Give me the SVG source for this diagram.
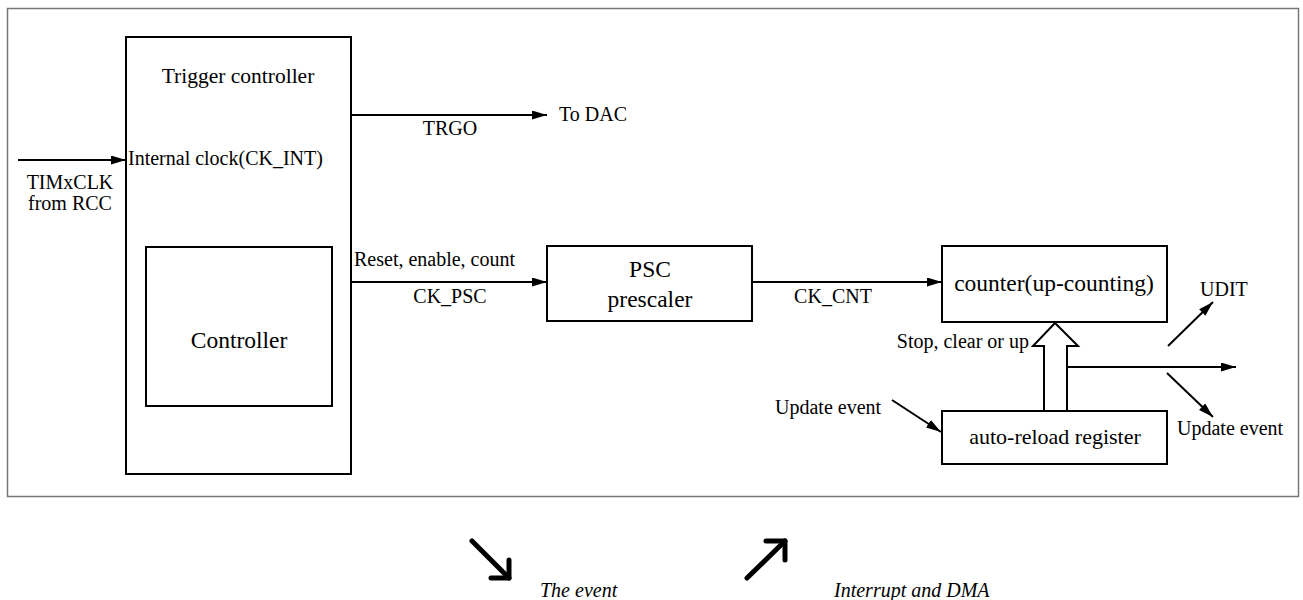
<svg xmlns="http://www.w3.org/2000/svg" width="1303" height="600" viewBox="0 0 1303 600">
<style>
text { font-family: "Liberation Serif", Tinos, "Times New Roman", "DejaVu Serif", "Noto Serif", serif; fill: #000; }
.s { font-size: 20px; }
.b { font-size: 23.5px; }
.i { font-size: 20px; font-style: italic; }
.box { fill: #fff; stroke: #000; stroke-width: 2; }
.ln { fill: none; stroke: #000; stroke-width: 2; }
.big { fill: none; stroke: #000; stroke-width: 5; stroke-linecap: round; stroke-linejoin: round; }
</style>
<defs>
<marker id="ah" markerUnits="userSpaceOnUse" markerWidth="16" markerHeight="10" refX="15" refY="4.5" orient="auto">
<path d="M0,0 L15,4.5 L0,9 z" fill="#000"/>
</marker>
</defs>
<rect x="7.5" y="8.5" width="1291" height="488" fill="#fff" stroke="#777" stroke-width="1.5"/>

<g id="trigger">
<rect class="box" x="126" y="37" width="225" height="437"/>
<text x="238" y="83" text-anchor="middle" font-size="21.5" font-family="Liberation Serif, serif">Trigger controller</text>
<text class="s" x="128" y="165" font-family="Liberation Serif, serif">Internal clock(CK_INT)</text>
</g>
<g id="controller">
<rect class="box" x="146" y="247" width="186" height="159"/>
<text class="b" x="239" y="348" text-anchor="middle" font-family="Liberation Serif, serif">Controller</text>
</g>
<g id="psc">
<rect class="box" x="547" y="246" width="205" height="75"/>
<text class="b" x="650" y="277" text-anchor="middle" font-family="Liberation Serif, serif">PSC</text>
<text class="b" x="650" y="307" text-anchor="middle" font-family="Liberation Serif, serif">prescaler</text>
</g>
<g id="counter">
<rect class="box" x="942" y="246" width="225" height="76"/>
<text class="b" x="1054" y="291" text-anchor="middle" font-family="Liberation Serif, serif">counter(up-counting)</text>
</g>
<g id="arr">
<rect class="box" x="942" y="411" width="225" height="53"/>
<text x="1055" y="444" text-anchor="middle" font-size="22" font-family="Liberation Serif, serif">auto-reload register</text>
</g>
<g id="shift">
<polygon points="1044,411 1044,346 1033,346 1055,323 1078,346 1067,346 1067,411" fill="#fff" stroke="#000" stroke-width="2"/>
</g>

<g id="connectors">
<line class="ln" x1="18" y1="160" x2="126" y2="160" marker-end="url(#ah)"/>
<line class="ln" x1="351" y1="115" x2="547" y2="115" marker-end="url(#ah)"/>
<line class="ln" x1="351" y1="282" x2="547" y2="282" marker-end="url(#ah)"/>
<line class="ln" x1="752" y1="282" x2="942" y2="282" marker-end="url(#ah)"/>
<line class="ln" x1="1067" y1="367" x2="1236" y2="367" marker-end="url(#ah)"/>
<line class="ln" x1="1168" y1="346" x2="1213" y2="302" marker-end="url(#ah)"/>
<line class="ln" x1="1167" y1="373" x2="1213" y2="417" marker-end="url(#ah)"/>
<line class="ln" x1="892" y1="400" x2="941" y2="432" marker-end="url(#ah)"/>
<line class="big" x1="472" y1="541" x2="509" y2="578"/>
<polyline class="big" points="491,578 509,578 509,560"/>
<line class="big" x1="747" y1="578" x2="785" y2="541"/>
<polyline class="big" points="766,541 785,541 785,560"/>
</g>

<g id="labels" font-family="Liberation Serif, serif">
<text class="s" x="70" y="189" text-anchor="middle" font-family="Liberation Serif, serif">TIMxCLK</text>
<text class="s" x="70" y="210" text-anchor="middle" font-family="Liberation Serif, serif">from RCC</text>
<text class="s" x="559" y="121" font-family="Liberation Serif, serif">To DAC</text>
<text class="s" x="450" y="135" text-anchor="middle" font-family="Liberation Serif, serif">TRGO</text>
<text class="s" x="354" y="266" font-family="Liberation Serif, serif">Reset, enable, count</text>
<text class="s" x="450" y="303" text-anchor="middle" font-family="Liberation Serif, serif">CK_PSC</text>
<text class="s" x="833" y="303" text-anchor="middle" font-family="Liberation Serif, serif">CK_CNT</text>
<text class="s" x="1200" y="296" font-family="Liberation Serif, serif">UDIT</text>
<text class="s" x="1029" y="348" text-anchor="end" font-family="Liberation Serif, serif">Stop, clear or up</text>
<text class="s" x="775" y="414" font-family="Liberation Serif, serif">Update event</text>
<text class="s" x="1177" y="435" font-family="Liberation Serif, serif">Update event</text>
<text class="i" x="540" y="597" font-family="Liberation Serif, serif">The event</text>
<text class="i" x="834" y="597" font-family="Liberation Serif, serif">Interrupt and DMA</text>
</g>
</svg>
